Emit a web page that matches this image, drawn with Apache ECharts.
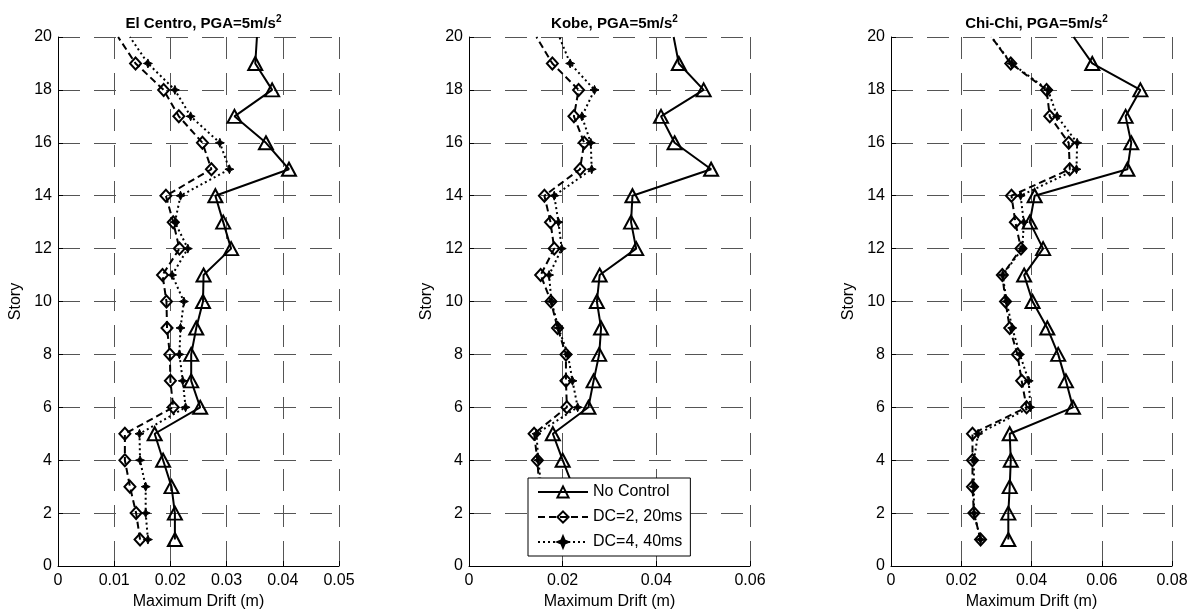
<!DOCTYPE html>
<html>
<head>
<meta charset="utf-8">
<script src="https://cdn.jsdelivr.net/npm/echarts@6/dist/echarts.min.js"></script>
<style>
  html, body { margin: 0; padding: 0; background: #fff; }
  #chart { width: 1193px; height: 615px; }
</style>
</head>
<body>
<div id="chart"></div>
<script>
// stories 1..20
var stories = [1, 2, 3, 4, 5, 6, 7, 8, 9, 10, 11, 12, 13, 14, 15, 16, 17, 18, 19, 20];

// El Centro
var elNoControl = [0.0208, 0.0208, 0.0202, 0.0187, 0.0172, 0.0253, 0.0237, 0.0237, 0.0246, 0.0258,
                   0.0259, 0.0308, 0.0294, 0.0280, 0.0411, 0.0370, 0.0314, 0.0381, 0.0351, 0.0354];
var elDC2 = [0.0146, 0.0139, 0.0128, 0.0119, 0.0119, 0.0205, 0.0200, 0.0199, 0.0194, 0.0193,
             0.0186, 0.0216, 0.0205, 0.0192, 0.0273, 0.0257, 0.0215, 0.0188, 0.0138, 0.0107];
var elDC4 = [0.0160, 0.0156, 0.0156, 0.0146, 0.0145, 0.0227, 0.0222, 0.0216, 0.0218, 0.0224,
             0.0203, 0.0231, 0.0208, 0.0218, 0.0305, 0.0288, 0.0236, 0.0208, 0.0160, 0.0128];

// Kobe (stories 1-3 are behind the legend, estimated)
var kobeNoControl = [0.0230, 0.0228, 0.0222, 0.0200, 0.0179, 0.0255, 0.0266, 0.0278, 0.0282, 0.0273,
                     0.0279, 0.0357, 0.0346, 0.0349, 0.0517, 0.0439, 0.0410, 0.0501, 0.0448, 0.0437];
var kobeDC2 = [0.0152, 0.0150, 0.0150, 0.0146, 0.0139, 0.0209, 0.0207, 0.0207, 0.0189, 0.0175,
               0.0153, 0.0182, 0.0174, 0.0161, 0.0237, 0.0246, 0.0224, 0.0234, 0.0178, 0.0144];
var kobeDC4 = [0.0158, 0.0156, 0.0154, 0.0148, 0.0144, 0.0232, 0.0221, 0.0211, 0.0191, 0.0176,
               0.0171, 0.0198, 0.0191, 0.0182, 0.0262, 0.0260, 0.0241, 0.0268, 0.0216, 0.0193];

// Chi-Chi
var chiNoControl = [0.0334, 0.0334, 0.0338, 0.0341, 0.0338, 0.0518, 0.0498, 0.0476, 0.0445, 0.0403,
                    0.0379, 0.0433, 0.0395, 0.0409, 0.0673, 0.0684, 0.0668, 0.0710, 0.0573, 0.0520];
var chiDC2 = [0.0255, 0.0236, 0.0232, 0.0232, 0.0232, 0.0386, 0.0372, 0.0360, 0.0338, 0.0326,
              0.0317, 0.0370, 0.0354, 0.0343, 0.0509, 0.0506, 0.0452, 0.0443, 0.0341, 0.0286];
var chiDC4 = [0.0255, 0.0236, 0.0236, 0.0236, 0.0248, 0.0397, 0.0392, 0.0367, 0.0345, 0.0329,
              0.0318, 0.0374, 0.0378, 0.0369, 0.0528, 0.0530, 0.0473, 0.0447, 0.0343, 0.0286];

var titles = ['El Centro, PGA=5m/s{s|2}', 'Kobe, PGA=5m/s{s|2}', 'Chi-Chi, PGA=5m/s{s|2}'];
var xMax = [0.05, 0.06, 0.08];
var xStep = [0.01, 0.02, 0.02];
var seriesNames = ['No Control', 'DC=2, 20ms', 'DC=4, 40ms'];
var panels = [[elNoControl, elDC2, elDC4], [kobeNoControl, kobeDC2, kobeDC4], [chiNoControl, chiDC2, chiDC4]];

var FONT = 'Arial, "Liberation Sans", sans-serif';
var gridLeft = [58, 469, 891];
var gridW = 281;

function pairs(xs) {
    var out = [];
    for (var i = 0; i < stories.length; i++) {
        if (stories[i] === 20) {
            out.push({ value: [xs[i], stories[i]], symbol: 'none' }); // no marker at the top
        } else {
            out.push([xs[i], stories[i]]);
        }
    }
    return out;
}

// marker / line style per series
var styles = [
    { symbol: 'triangle', symbolSize: [14, 13], line: 'solid', fill: 'rgba(0,0,0,0)', border: 2 },
    { symbol: 'diamond', symbolSize: [11, 12], line: [7, 4], fill: 'rgba(0,0,0,0)', border: 2 },
    { symbol: 'path://M0,-10 L3,-3 L10,0 L3,3 L0,10 L-3,3 L-10,0 L-3,-3 Z', symbolSize: 9, line: [2, 3], fill: '#000', border: 1 }
];

var grid = [], xAxis = [], yAxis = [], title = [], series = [];
for (var p = 0; p < 3; p++) {
    grid.push({ left: gridLeft[p], width: gridW, top: 37, height: 531 });
    title.push({
        text: titles[p],
        left: gridLeft[p] + gridW / 2,
        textAlign: 'center',
        top: 9,
        textStyle: {
            fontFamily: FONT, fontSize: 15, fontWeight: 'bold', color: '#000',
            rich: { s: { fontFamily: FONT, fontSize: 10, fontWeight: 'bold', color: '#000', padding: [0, 0, 10, 0] } }
        }
    });
    xAxis.push({
        type: 'value', gridIndex: p, min: 0, max: xMax[p], interval: xStep[p],
        name: 'Maximum Drift (m)', nameLocation: 'middle', nameGap: 28,
        nameTextStyle: { fontFamily: FONT, fontSize: 16, color: '#000' },
        axisLine: { show: true, onZero: false, lineStyle: { color: '#000', width: 1 } },
        axisTick: { show: true, inside: true, length: 5, lineStyle: { color: '#000' } },
        axisLabel: {
            fontFamily: FONT, fontSize: 16, color: '#000', margin: 7,
            formatter: function (v) { return v === 0 ? '0' : String(+v.toFixed(2)); }
        },
        splitLine: { show: true, lineStyle: { color: '#555', width: 1, type: [22, 14] } }
    });
    yAxis.push({
        type: 'value', gridIndex: p, min: 0, max: 20, interval: 2,
        name: 'Story', nameLocation: 'middle', nameGap: 34,
        nameTextStyle: { fontFamily: FONT, fontSize: 16, color: '#000' },
        axisLine: { show: true, onZero: false, lineStyle: { color: '#000', width: 1 } },
        axisTick: { show: true, inside: true, length: 5, lineStyle: { color: '#000' } },
        axisLabel: { fontFamily: FONT, fontSize: 16, color: '#000', margin: 6 },
        splitLine: { show: true, lineStyle: { color: '#555', width: 1, type: [22, 14] } }
    });
    for (var s = 0; s < 3; s++) {
        var st = styles[s];
        series.push({
            name: seriesNames[s],
            type: 'line',
            xAxisIndex: p, yAxisIndex: p,
            data: pairs(panels[p][s]),
            symbol: st.symbol,
            symbolSize: st.symbolSize,
            showAllSymbol: true,
            clip: false,
            animation: false,
            z: 5 - s,
            lineStyle: { color: '#000', width: 2, type: st.line },
            itemStyle: { color: st.fill, borderColor: '#000', borderWidth: st.border }
        });
    }
}

var option = {
    backgroundColor: '#fff',
    animation: false,
    title: title,
    grid: grid,
    xAxis: xAxis,
    yAxis: yAxis,
    legend: {
        data: seriesNames,
        orient: 'vertical',
        left: 528, top: 478,
        z: 50,
        itemWidth: 50, itemHeight: 14, itemGap: 9,
        padding: [6, 8, 6, 9],
        backgroundColor: '#fff',
        borderColor: '#000', borderWidth: 1, borderRadius: 0,
        textStyle: { fontFamily: FONT, fontSize: 16, color: '#000' },
        selectedMode: false
    },
    series: series
};

echarts.init(document.getElementById('chart'), null, { renderer: 'canvas' }).setOption(option);
</script>
</body>
</html>
